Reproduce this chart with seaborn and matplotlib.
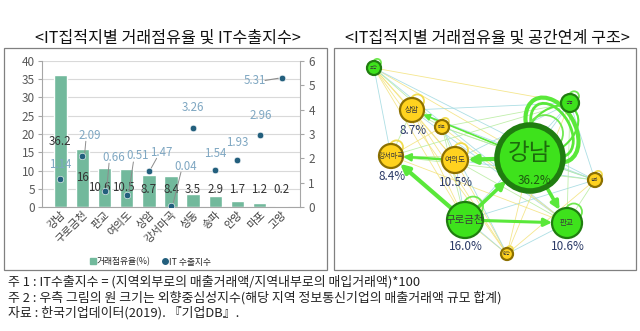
import matplotlib
matplotlib.use("Agg")
import matplotlib.pyplot as plt
import seaborn as sns
import pandas as pd
import numpy as np
from matplotlib.patches import Rectangle, Circle, FancyArrowPatch, Ellipse
from matplotlib.lines import Line2D

# ---------------- data ----------------
regions = ["강남", "구로금천", "판교", "여의도", "상암", "강서마곡", "성동", "송파", "안양", "마포", "고양"]
share = [36.2, 16, 10.6, 10.5, 8.7, 8.4, 3.5, 2.9, 1.7, 1.2, 0.2]
export_idx = [1.14, 2.09, 0.66, 0.51, 1.47, 0.04, 3.26, 1.54, 1.93, 2.96, 5.31]
share_labels = ["36.2", "16", "10.6", "10.5", "8.7", "8.4", "3.5", "2.9", "1.7", "1.2", "0.2"]
export_labels = ["1.14", "2.09", "0.66", "0.51", "1.47", "0.04", "3.26", "1.54", "1.93", "2.96", "5.31"]

net_nodes = ["강남", "구로금천", "판교", "여의도", "상암", "강서마곡", "성동", "고양", "마포", "송파", "안양"]
net_share = ["36.2%", "16.0%", "10.6%", "10.5%", "8.7%", "8.4%", "", "", "", "", ""]
net_group = ["g", "g", "g", "y", "y", "y", "g", "g", "y", "y", "y"]
strong_links = [("강남", "여의도"), ("구로금천", "강서마곡"), ("구로금천", "판교"),
                ("구로금천", "강남"), ("강남", "판교"), ("여의도", "강서마곡"), ("강남", "상암")]
strong_weight = [3.0, 3.0, 2.2, 2.6, 2.6, 1.8, 1.2]

# ---------------- style ----------------
sns.set_style("white")
plt.rcParams["font.family"] = ["Noto Sans CJK KR", "DejaVu Sans"]

W, H = 640, 331
fig = plt.figure(figsize=(W / 100, H / 100), dpi=100)

def fx(x): return x / W
def fy(y): return 1 - y / H

# background axes in pixel coordinates
bg = fig.add_axes([0, 0, 1, 1], zorder=0)
bg.set_xlim(0, W); bg.set_ylim(H, 0); bg.axis("off")

bg.add_patch(Rectangle((4, 48), 323, 222, fill=False, ec="#808080", lw=0.9))
bg.add_patch(Rectangle((334, 48), 302, 222, fill=False, ec="#808080", lw=0.9))

bg.text(168, 38, "<IT집적지별 거래점유율 및 IT수출지수>", ha="center", va="center", fontsize=11.6, color="#111111")
bg.text(487, 38, "<IT집적지별 거래점유율 및 공간연계 구조>", ha="center", va="center", fontsize=11.6, color="#111111")

notes = ["주 1 : IT수출지수 = (지역외부로의 매출거래액/지역내부로의 매입거래액)*100",
         "주 2 : 우측 그림의 원 크기는 외향중심성지수(해당 지역 정보통신기업의 매출거래액 규모 합계)",
         "자료 : 한국기업데이터(2019). 『기업DB』."]
for i, t in enumerate(notes):
    bg.text(8, 282 + i * 15.5, t, ha="left", va="center", fontsize=9.3, color="#222222")

# ---------------- left chart ----------------
bar_c = "#72b99c"
dot_c = "#235f7d"
lab_c = "#7fa7c2"
ax = fig.add_axes([fx(42), fy(207), 258 / W, 146 / H], zorder=2)
ax.patch.set_alpha(0)
df = pd.DataFrame({"region": regions, "share": share, "export": export_idx})
sns.barplot(data=df, x="region", y="share", color=bar_c, width=0.6, ax=ax, saturation=1)
ax.set_ylim(0, 40)
ax.set_yticks(range(0, 41, 5))
ax.grid(axis="y", color="#d9d9d9", lw=0.8)
ax.set_axisbelow(True)
ax.set_xlabel(""); ax.set_ylabel("")
for s in ["top", "right"]:
    ax.spines[s].set_visible(False)
for s in ["left", "bottom"]:
    ax.spines[s].set_color("#a6a6a6"); ax.spines[s].set_linewidth(0.8)
ax.tick_params(axis="y", labelsize=8.5, colors="#595959", length=3, color="#a6a6a6", pad=2)
ax.tick_params(axis="x", labelsize=7.8, colors="#404040", length=0, pad=2)
plt.setp(ax.get_xticklabels(), rotation=45, ha="right", rotation_mode="anchor")

ax2 = ax.twinx()
sns.scatterplot(data=df, x="region", y="export", color=dot_c, s=22, edgecolor="white", linewidth=0.4, ax=ax2, zorder=5)
ax2.set_ylim(0, 6)
ax2.set_yticks(range(0, 7))
ax2.set_ylabel("")
for s in ["top", "left", "bottom"]:
    ax2.spines[s].set_visible(False)
ax2.spines["right"].set_color("#a6a6a6"); ax2.spines["right"].set_linewidth(0.8)
ax2.tick_params(axis="y", labelsize=8.5, colors="#595959", length=3, color="#a6a6a6", pad=3)

# bar value labels (left-axis positions)
bar_lab_y = [18, 8.2, 5.3, 5.3, 4.9, 4.9, 4.9, 4.9, 4.9, 4.9, 4.9]
bar_lab_dx = [0, 0, -0.25, -0.15, 0, 0, 0, 0, 0, 0, 0]
for i, (t, yy) in enumerate(zip(share_labels, bar_lab_y)):
    ax.text(i + bar_lab_dx[i], yy, t, ha="center", va="center", fontsize=8.3, color="#333333", zorder=6)

# export labels (right-axis positions) with leader lines
exp_lab_pos = [(0, 1.75), (1.35, 2.95), (2.4, 2.05), (3.5, 2.1), (4.55, 2.25), (5.65, 1.68),
               (6.0, 4.1), (7.0, 2.2), (8.0, 2.65), (9.05, 3.75), (8.8, 5.2)]
leaders = {1: True, 2: True, 3: True, 4: True, 5: True, 10: True}
for i, (t, (lx, ly)) in enumerate(zip(export_labels, exp_lab_pos)):
    ax2.text(lx, ly, t, ha="center", va="center", fontsize=8.3, color=lab_c, zorder=7)
    if i in leaders:
        if i == 10:
            ax2.plot([lx + 0.45, i - 0.15], [ly, export_idx[i] - 0.02], color="#8c8c8c", lw=0.8, zorder=4)
        else:
            ax2.plot([lx - 0.2, i + 0.1], [ly - 0.25, export_idx[i] + 0.12], color="#8c8c8c", lw=0.7, zorder=4)

handles = [Line2D([], [], marker="s", ls="", color=bar_c, markersize=4),
           Line2D([], [], marker="o", ls="", color=dot_c, markersize=4)]
fig.legend(handles, ["거래점유율(%)", "IT 수출지수"], loc="center", bbox_to_anchor=(fx(150), fy(262)),
           ncol=2, frameon=False, fontsize=6.3, handletextpad=0.1, columnspacing=1.2, handlelength=0.8)

# ---------------- right: network ----------------
pos = {"강남": (530, 158), "구로금천": (465, 220), "판교": (567, 223), "여의도": (455, 160),
       "상암": (412, 110), "강서마곡": (391, 156), "성동": (570, 103), "고양": (374, 68),
       "마포": (442, 127), "송파": (595, 180), "안양": (507, 254)}
rad = {"강남": 33, "구로금천": 18, "판교": 15, "여의도": 13, "상암": 12, "강서마곡": 12,
       "성동": 9, "고양": 7, "마포": 7, "송파": 7, "안양": 6}
fsz = {"강남": 17, "구로금천": 7.5, "판교": 5.5, "여의도": 5.5, "상암": 5.5, "강서마곡": 5,
       "성동": 3, "고양": 3, "마포": 3, "송파": 3, "안양": 3}
fill = {"g": "#3ee21c", "y": "#ffd21f"}
edge = {"g": "#207d10", "y": "#8c7000"}
loopc = {"g": "#70e850", "y": "#f2dc50"}

net = bg
# thin connections
k = 0
for i, a in enumerate(net_nodes):
    for b in net_nodes[i + 1:]:
        c = ["#f3e27a", "#b5ec9c", "#9fd9e0"][k % 3]
        k += 1
        (x1, y1), (x2, y2) = pos[a], pos[b]
        net.plot([x1, x2], [y1, y2], color=c, lw=0.6, alpha=0.85, zorder=1)

# big self-loop arcs of 강남 toward 성동
for w_, h_, ang, lw_ in [(46, 70, -30, 3.0), (36, 58, -30, 2.0), (60, 40, -40, 1.5)]:
    net.add_patch(Ellipse((552, 130), w_, h_, angle=ang, fill=False, ec="#5ae83a", lw=lw_, zorder=2))

# strong links
for (a, b), wgt in zip(strong_links, strong_weight):
    (x1, y1), (x2, y2) = pos[a], pos[b]
    arr = FancyArrowPatch((x1, y1), (x2, y2), arrowstyle="-|>", mutation_scale=8 + wgt * 1.5,
                          color="#5ae83a", lw=wgt, shrinkA=rad[a] * 0.72, shrinkB=rad[b] * 0.72, zorder=3)
    net.add_patch(arr)

# nodes
for n, grp, pct in zip(net_nodes, net_group, net_share):
    x, y = pos[n]; r = rad[n]
    net.add_patch(Circle((x + r * 0.45, y - r * 0.75), r * 0.55, fill=False, ec=loopc[grp], lw=1.3, zorder=2))
    lw = 4 if n == "강남" else 1.6
    net.add_patch(Circle((x, y), r, fc=fill[grp], ec=edge[grp], lw=lw, zorder=4))
    if n == "강남":
        net.text(x, y - 5, n, ha="center", va="center", fontsize=fsz[n], color="#1d6b0d", zorder=5)
        net.text(x + 5, y + 23, pct, ha="center", va="center", fontsize=8.5, color="#1d5a10", zorder=5)
    else:
        net.text(x, y, n, ha="center", va="center", fontsize=fsz[n], color="#3a3a3a", zorder=5)
        if pct:
            net.text(x + 1, y + r + 9, pct, ha="center", va="center", fontsize=8.5, color="#2b3a67", zorder=5)

fig.savefig("out.png", dpi=100)
